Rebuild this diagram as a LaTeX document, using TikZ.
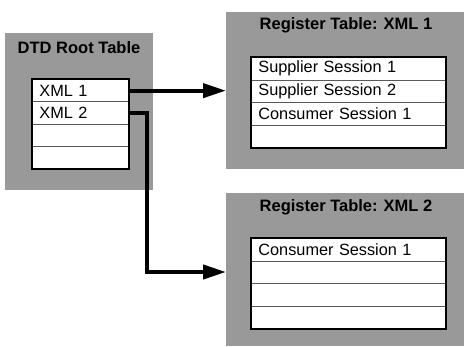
\documentclass[tikz,border=0pt]{standalone}
\usepackage{fontspec}
\setmainfont{Liberation Sans}
\usetikzlibrary{arrows.meta}
\tikzset{
  panel/.style={fill=black!40, draw=none, anchor=north west, inner sep=0pt},
  ttl/.style={font=\fontsize{16.5}{19}\selectfont\bfseries, inner sep=0pt, anchor=center},
  row/.style={draw=black!65, line width=0.8pt, fill=white, anchor=north west,
    inner xsep=7pt, inner ysep=0pt, minimum height=22.5pt, align=left,
    font=\fontsize{16.3}{19}\selectfont},
  lrow/.style={row, minimum width=96pt, text width=82pt},
  rrow/.style={row, minimum width=194pt, text width=180pt},
  frame/.style={draw=black, line width=1.5pt},
  conn/.style={line width=4pt, -{Triangle[length=23pt,width=14pt]}}
}
\begin{document}
\begin{tikzpicture}[x=1pt,y=-1pt]
\useasboundingbox (0,0) rectangle (464,346);
% panels
\node[panel, minimum width=148pt, minimum height=157pt] (p0) at (5,33) {};
\node[panel, minimum width=238pt, minimum height=157pt] (p1) at (226,12) {};
\node[panel, minimum width=238pt, minimum height=153pt] (p2) at (226,193) {};
% titles
\node[ttl] (t0) at (79,48) {DTD Root Table};
\node[ttl] (t1) at (346,25) {Register Table: XML 1};
\node[ttl] (t2) at (346,207) {Register Table: XML 2};
% left table
\node[lrow] (a1) at (32,79) {XML 1};
\node[lrow] (a2) at (32,101.25) {XML 2};
\node[lrow] (a3) at (32,123.5) {};
\node[lrow] (a4) at (32,145.75) {};
\draw[frame] (a1.north west) rectangle (a4.south east);
% top right table
\node[rrow] (b1) at (251,57) {Supplier Session 1};
\node[rrow] (b2) at (251,79.5) {Supplier Session 2};
\node[rrow] (b3) at (251,102) {Consumer Session 1};
\node[rrow] (b4) at (251,124.5) {};
\draw[frame] (b1.north west) rectangle (b4.south east);
% bottom right table
\node[rrow] (c1) at (251,238) {Consumer Session 1};
\node[rrow] (c2) at (251,260.5) {};
\node[rrow] (c3) at (251,283) {};
\node[rrow] (c4) at (251,305.5) {};
\draw[frame] (c1.north west) rectangle (c4.south east);
% connectors
\draw[conn] (a1.east) -- (p1.west |- a1.east);
\coordinate (bend) at (147,272);
\draw[conn] (a2.east) -| (bend) -- (p2.west |- bend);
\end{tikzpicture}
\end{document}
